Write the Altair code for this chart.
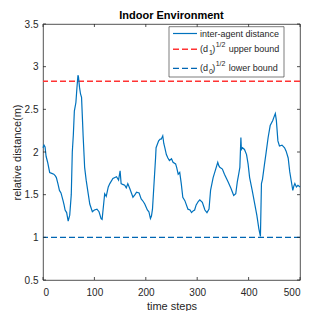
import altair as alt
import pandas as pd

steps = [0,2,4,6,9,13,17,21,24,26,29,32,35,39,41,43,46,49,52,55,57,59,61,64,66,68,69,71,73,75,77,78,80,81,84,88,91,96,100,105,109,113,115,118,120,123,127,130,136,143,147,150,152,155,159,162,165,169,172,175,179,182,187,191,195,198,203,206,209,211,213,216,219,220,225,228,230,233,235,237,240,243,246,250,253,258,260,263,266,269,272,276,282,286,289,292,295,298,302,305,310,315,319,323,326,331,336,340,342,344,349,353,360,366,371,375,378,381,383,385,386,388,392,396,399,402,407,412,416,420,423,425,427,431,434,438,442,447,450,452,454,457,460,465,470,473,477,480,483,486,488,490,493,496,500]
dist = [2.05,2.08,2.06,1.95,1.88,1.76,1.75,1.74,1.72,1.70,1.63,1.55,1.52,1.43,1.38,1.32,1.29,1.19,1.26,1.5,2.0,2.2,2.48,2.58,2.75,2.9,2.88,2.76,2.68,2.64,2.35,2.2,1.95,1.82,1.67,1.51,1.39,1.30,1.32,1.33,1.30,1.22,1.21,1.39,1.51,1.48,1.59,1.63,1.69,1.71,1.67,1.78,1.63,1.62,1.61,1.58,1.63,1.57,1.52,1.47,1.50,1.53,1.52,1.45,1.42,1.39,1.32,1.30,1.22,1.25,1.33,1.63,1.93,2.05,2.13,2.15,2.15,2.19,2.10,2.05,1.97,1.93,1.9,1.92,1.88,1.86,1.82,1.74,1.76,1.63,1.47,1.43,1.33,1.32,1.29,1.31,1.32,1.38,1.42,1.44,1.41,1.32,1.29,1.33,1.55,1.70,1.80,1.88,1.84,1.82,1.80,1.74,1.65,1.57,1.49,1.51,1.65,1.75,1.82,2.17,2.03,2.05,2.03,1.97,1.86,1.70,1.55,1.39,1.26,1.10,1.01,1.63,1.68,1.86,1.99,2.17,2.31,2.37,2.42,2.45,2.37,2.13,2.07,2.08,2.05,2.01,1.93,1.77,1.66,1.55,1.60,1.63,1.59,1.61,1.59]
upper_bound = [2.828]
lower_bound = [1.0]
x_ticks = [0, 100, 200, 300, 400, 500]
y_ticks = [0.5, 1, 1.5, 2, 2.5, 3, 3.5]
title_text = "Indoor Environment"

W, H = 257, 256
AX = "#262626"
BLUE = "#0072BD"
BLUE2 = "#0066B3"
RED = "#FF3333"
FONT = "Liberation Sans"

df = pd.DataFrame({"t": steps, "d": dist})
xs = alt.Scale(domain=[0, 500], nice=False)
ys = alt.Scale(domain=[0.5, 3.5], nice=False)

xaxis = alt.Axis(values=x_ticks, ticks=False, grid=False, domain=False, labelFontSize=10,
                 labelColor=AX, labelPadding=7, title="time steps", titleFontSize=11,
                 titleFontWeight="normal", titleColor=AX, titleY=26, titleBaseline="middle")
yaxis = alt.Axis(values=y_ticks, ticks=False, grid=False, domain=False, format="~g",
                 labelFontSize=10, labelColor=AX, labelPadding=5, title="relative distance(m)",
                 titleFontSize=11, titleFontWeight="normal", titleColor=AX,
                 titleX=-26, titleY=H / 2, titleAngle=-90, titleBaseline="middle", titleAlign="center")

line = alt.Chart(df).mark_line(color=BLUE, strokeWidth=1.2).encode(
    x=alt.X("t:Q", scale=xs, axis=xaxis),
    y=alt.Y("d:Q", scale=ys, axis=yaxis),
)

ub = alt.Chart(pd.DataFrame({"v": upper_bound})).mark_rule(
    color=RED, strokeWidth=1.5, strokeDash=[6, 3]).encode(y=alt.Y("v:Q", scale=ys))
lb = alt.Chart(pd.DataFrame({"v": lower_bound})).mark_rule(
    color=BLUE2, strokeWidth=1.2, strokeDash=[6, 3]).encode(y=alt.Y("v:Q", scale=ys))

xt = pd.DataFrame({"v": x_ticks})
yt = pd.DataFrame({"v": y_ticks})
tick_b = alt.Chart(xt).mark_rule(color=AX, strokeWidth=0.8).encode(
    x=alt.X("v:Q", scale=xs), y=alt.value(H), y2=alt.value(H - 3))
tick_t = alt.Chart(xt).mark_rule(color=AX, strokeWidth=0.8).encode(
    x=alt.X("v:Q", scale=xs), y=alt.value(0), y2=alt.value(3))
tick_l = alt.Chart(yt).mark_rule(color=AX, strokeWidth=0.8).encode(
    y=alt.Y("v:Q", scale=ys), x=alt.value(0), x2=alt.value(3))
tick_r = alt.Chart(yt).mark_rule(color=AX, strokeWidth=0.8).encode(
    y=alt.Y("v:Q", scale=ys), x=alt.value(W), x2=alt.value(W - 3))

one = pd.DataFrame({"a": [0]})
box = alt.Chart(one).mark_rect(fill="white", stroke=AX, strokeWidth=0.6).encode(
    x=alt.value(126), x2=alt.value(241), y=alt.value(2.7), y2=alt.value(53))
s1 = alt.Chart(one).mark_rule(color=BLUE, strokeWidth=1.2).encode(
    x=alt.value(130), x2=alt.value(154), y=alt.value(9.5))
s2 = alt.Chart(one).mark_rule(color=RED, strokeWidth=1.5, strokeDash=[6, 3]).encode(
    x=alt.value(130), x2=alt.value(154), y=alt.value(25.3))
s3 = alt.Chart(one).mark_rule(color=BLUE2, strokeWidth=1.2, strokeDash=[6, 3]).encode(
    x=alt.value(130), x2=alt.value(154), y=alt.value(44.3))

def txt(s, x, y, size=9, weight="normal", align="left", color=AX):
    return alt.Chart(one).mark_text(text=s, align=align, baseline="middle", fontSize=size,
                                    fontWeight=weight, font=FONT, color=color).encode(
        x=alt.value(x), y=alt.value(y))

legend = [
    txt("inter-agent distance", 157, 10.3),
    txt("(d", 157, 25.3), txt("1", 166, 28.7, 7), txt(")", 169.3, 25.3),
    txt("1/2", 172.7, 21.3, 7), txt("upper bound", 185.7, 25.3),
    txt("(d", 157, 44.3), txt("0", 166, 47.7, 7), txt(")", 169.3, 44.3),
    txt("1/2", 172.7, 40.3, 7), txt("lower bound", 185.7, 44.3),
]
title = txt(title_text, W / 2, -8.3, 11, "bold", "center", "black")

chart = alt.layer(ub, lb, line, tick_b, tick_t, tick_l, tick_r, box, s1, s2, s3, title, *legend).properties(
    width=W, height=H,
    autosize=alt.AutoSizeParams(type="none"),
    padding={"left": 35, "top": 16, "right": 24, "bottom": 31},
).configure(font=FONT).configure_view(stroke=AX, strokeWidth=0.8).configure_axis(labelFont=FONT, titleFont=FONT)

chart.save("out.html", embed_options={"renderer": "svg", "actions": False})
